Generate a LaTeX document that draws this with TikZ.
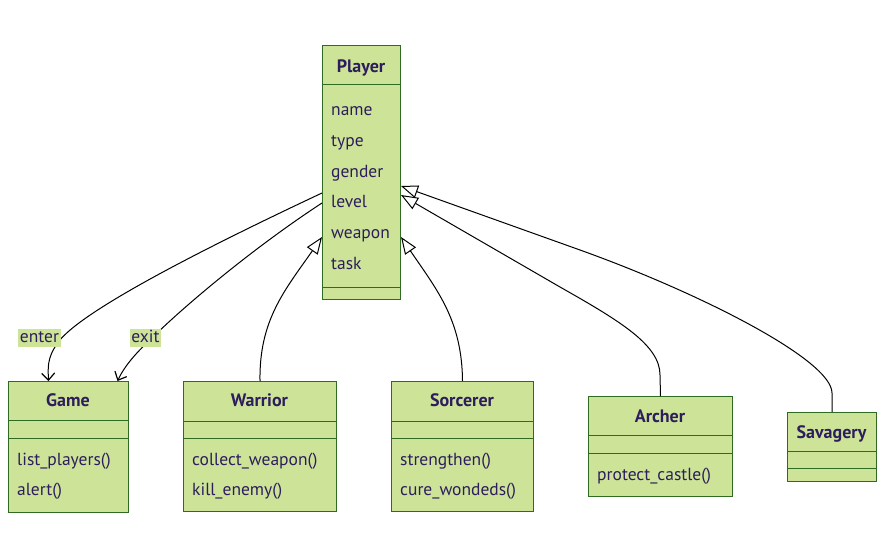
\documentclass[tikz,border=0pt]{standalone}
\usepackage{fontspec}
\setmainfont{PT Sans}
\usepackage{xcolor}
\usetikzlibrary{arrows.meta,calc,positioning}
\definecolor{classfill}{HTML}{CDE498}
\definecolor{classline}{HTML}{2F6B22}
\definecolor{classtext}{HTML}{2D1D5C}
\begin{document}
\begin{tikzpicture}[x=1pt, y=-1pt,
		classbox/.style={draw=classline, fill=classfill, line width=1pt, anchor=north west, inner sep=0pt},
		classsep/.style={draw=classline, line width=1pt},
		title/.style={font=\fontsize{18}{21}\selectfont\bfseries, text=classtext, inner sep=0pt, text height=16pt, text depth=1pt},
		member/.style={font=\fontsize{17.5}{21}\selectfont, text=classtext, anchor=west, inner sep=0pt, text height=16pt, text depth=1pt},
		edgelabel/.style={font=\fontsize{17.5}{21}\selectfont, text=classtext, fill=classfill, inner sep=1.5pt, text height=12pt, text depth=3pt},
		depend/.style={line width=1pt, -{Straight Barb[length=7pt, width=13pt, line width=1.2pt]}},
		inherit/.style={line width=1pt, -{Triangle[open, length=17pt, width=13pt, fill=white]}}]
		\useasboundingbox (0,0) rectangle (885,557);
		% class boxes
		\node [classbox, minimum width=78pt, minimum height=254pt] (player) at (322,45) {};
		\node [classbox, minimum width=120pt, minimum height=131pt] (game) at (8,381) {};
		\node [classbox, minimum width=153pt, minimum height=130pt] (warrior) at (183,381) {};
		\node [classbox, minimum width=142pt, minimum height=130pt] (sorcerer) at (391,381) {};
		\node [classbox, minimum width=144pt, minimum height=100pt] (archer) at (588,396) {};
		\node [classbox, minimum width=89pt, minimum height=69pt] (savagery) at (787,412) {};
		% compartment lines
		\draw [classsep] (322,84) -- (400,84);
		\draw [classsep] (322,287) -- (400,287);
		\draw [classsep] (8,420) -- (128,420);
		\draw [classsep] (8,438) -- (128,438);
		\draw [classsep] (183,421) -- (336,421);
		\draw [classsep] (183,438) -- (336,438);
		\draw [classsep] (391,421) -- (533,421);
		\draw [classsep] (391,438) -- (533,438);
		\draw [classsep] (588,435) -- (732,435);
		\draw [classsep] (588,453) -- (732,453);
		\draw [classsep] (787,451) -- (876,451);
		\draw [classsep] (787,468) -- (876,468);
		% titles
		\node [title] (playertitle) at (361,65) {Player};
		\node [title] (gametitle) at (68,399) {Game};
		\node [title] (warriortitle) at (259.5,399) {Warrior};
		\node [title] (sorcerertitle) at (462,399) {Sorcerer};
		\node [title] (archertitle) at (660,415) {Archer};
		\node [title] (savagerytitle) at (831.5,431) {Savagery};
		% members
		\node [member] (name) at (331,108) {name};
		\node [member] (type) at (331,139) {type};
		\node [member] (gender) at (331,170) {gender};
		\node [member] (level) at (331,200) {level};
		\node [member] (weapon) at (331,231) {weapon};
		\node [member] (task) at (331,262) {task};
		\node [member] (listplayers) at (17,458) {list\_players()};
		\node [member] (alert) at (17,488) {alert()};
		\node [member] (collect) at (192,458) {collect\_weapon()};
		\node [member] (kill) at (192,488) {kill\_enemy()};
		\node [member] (strengthen) at (400,458) {strengthen()};
		\node [member] (cure) at (400,488) {cure\_wondeds()};
		\node [member] (protect) at (597,473) {protect\_castle()};
		% dependencies
		\draw [depend] ([yshift=-148pt]player.north west) .. controls (190,255) and (75,315) .. (57,344)
			.. controls (47,358) and (48,368) .. ([xshift=-20pt]game.north);
		\draw [depend] ([yshift=-158pt]player.north west) .. controls (250,250) and (180,310) .. (152,338)
			.. controls (137,352) and (125,365) .. ([xshift=49pt]game.north);
		\node [edgelabel] (enter) at (39.5,337.5) {enter};
		\node [edgelabel] (exit) at (145.5,337.5) {exit};
		% inheritance
		\draw [inherit] (warrior.north) .. controls (259,320) and (285,290) .. ([yshift=-192pt]player.north west);
		\draw [inherit] (sorcerer.north) .. controls (462,320) and (437,290) .. ([yshift=-192pt]player.north east);
		\draw [inherit] (archer.north) -- (660,375) .. controls (660,345) and (620,321) .. (560,287)
			-- ([yshift=-150pt]player.north east);
		\draw [inherit] (savagery.north) -- (832,393) .. controls (832,360) and (700,293) .. (580,250)
			-- ([yshift=-141pt]player.north east);
	\end{tikzpicture}
\end{document}
